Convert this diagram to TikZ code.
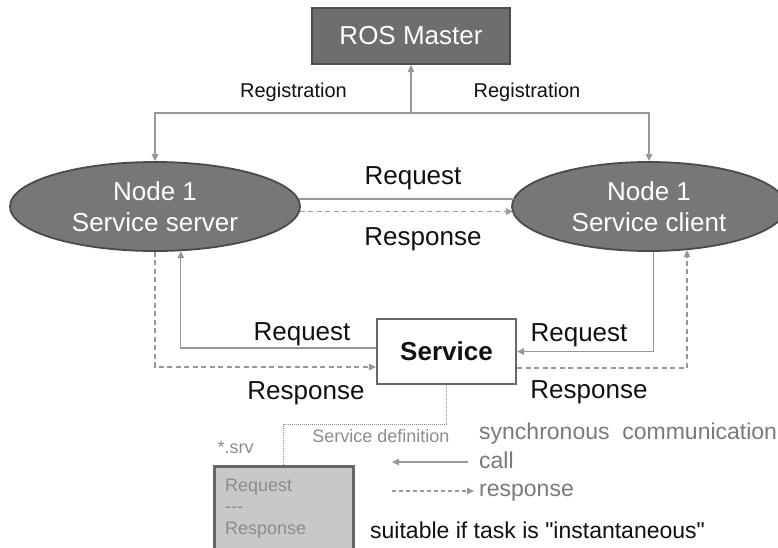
\documentclass[tikz,border=0pt]{standalone}
\usepackage{fontspec}
\setmainfont{Liberation Sans}[Ligatures=TeXOff]
\usetikzlibrary{arrows.meta,calc,shapes.geometric}

\definecolor{boxfill}{HTML}{6E6E6E}
\definecolor{boxedge}{HTML}{4D4D4D}
\definecolor{nodefill}{HTML}{777777}
\definecolor{nodeedge}{HTML}{4A4A4A}
\definecolor{linkgray}{HTML}{989898}
\definecolor{framegray}{HTML}{666666}
\definecolor{legendgray}{HTML}{7A7A7A}
\definecolor{defgray}{HTML}{8C8C8C}
\definecolor{deffill}{HTML}{C8C8C8}
\definecolor{labelink}{HTML}{111111}

\begin{document}
\begin{tikzpicture}[x=1pt,y=-1pt,
  master/.style={rectangle, fill=boxfill, draw=boxedge, line width=2pt,
    minimum width=198pt, minimum height=56pt, inner sep=0pt,
    text=white, font=\fontsize{26}{30}\selectfont},
  proc/.style={ellipse, fill=nodefill, draw=nodeedge, line width=1.8pt,
    minimum height=89pt, inner sep=0pt, text=white, align=center,
    font=\fontsize{26}{31}\selectfont},
  svcbox/.style={rectangle, fill=white, draw=framegray, line width=2.2pt,
    minimum width=139pt, minimum height=65pt, inner sep=0pt,
    text=labelink, font=\bfseries\fontsize{26}{30}\selectfont},
  defbox/.style={rectangle, fill=deffill, draw=framegray, line width=2.6pt,
    minimum width=139pt, minimum height=100pt, inner sep=0pt},
  deftext/.style={inner sep=0pt, align=left, text=defgray,
    font=\fontsize{18}{21.5}\selectfont},
  lbl/.style={inner sep=0pt, anchor=base, text=labelink,
    font=\fontsize{26}{30}\selectfont},
  reglbl/.style={inner sep=0pt, text=labelink, font=\fontsize{20}{24}\selectfont},
  small/.style={inner sep=0pt, text=defgray, font=\fontsize{18}{21}\selectfont},
  legend/.style={inner sep=0pt, anchor=base west, text=legendgray,
    font=\fontsize{23}{27}\selectfont},
  note/.style={inner sep=0pt, anchor=base west, text=labelink,
    font=\fontsize{23}{27}\selectfont},
  link/.style={draw=linkgray, line width=1.4pt},
  resp/.style={link, dash pattern=on 5pt off 3.5pt},
  defline/.style={draw=defgray, line width=0.9pt, dash pattern=on 1pt off 1pt},
  tip/.style={-{Triangle[length=7pt,width=6.5pt]}}]

\useasboundingbox (0,0) rectangle (778,547);
\fill[white] (0,0) rectangle (778,547);

% --- nodes -------------------------------------------------------------
\node[master] (ros) at (411,36) {ROS Master};
\node[proc, minimum width=290pt] (srv) at (155,206.5) {Node 1\\Service server};
\node[proc, minimum width=274pt] (cli) at (649,206.5) {Node 1\\Service client};
\node[svcbox] (svc) at (446.5,351.5) {Service};
\node[defbox, anchor=north west] (def) at (213,465) {};
\node[deftext, anchor=north west] (deftxt) at (225,478.5)
  {Request\\---\\Response};

% --- registration with the master ---------------------------------------
\coordinate (hub) at (411,113);
\draw[link,tip] (hub) -- (ros.south);
\draw[link,tip] (hub) -| (srv.north);
\draw[link,tip] (hub) -| (cli.north);
\node[reglbl] (reg1) at (293.5,92) {Registration};
\node[reglbl] (reg2) at (527,92) {Registration};

% --- direct request / response between the two nodes ---------------------
\coordinate (rqL) at (srv.3.4);
\coordinate (rsL) at (srv.-2.19);
\draw[link] (rqL) -- (rqL -| cli.176.4);
\draw[resp,tip] (rsL) -- (rsL -| cli.-177.7);
\node[lbl] (rq0) at (413,184.5) {Request};
\node[lbl] (rs0) at (423,245) {Response};

% --- traffic through the service ---------------------------------------
\draw[link,tip] ($(svc.west)+(0,-3.5)$) -| (srv.-60.6);
\draw[resp,tip] (srv.south) |- ($(svc.west)+(0,15.5)$);
\draw[link,tip] (cli.-84.9) |- (svc.east);
\draw[resp,tip] ($(svc.east)+(0,16.5)$) -| (cli.-49.2);
\node[lbl] (rq1) at (302,340) {Request};
\node[lbl] (rs1) at (306,399.3) {Response};
\node[lbl] (rq2) at (579,341) {Request};
\node[lbl] (rs2) at (589,398.3) {Response};

% --- service definition file -----------------------------------------
\draw[defline] (svc.south) |- (def.north |- 0,424) -- (def.north);
\node[small] (sdef) at (381,436) {Service definition};
\node[small] (ext) at (235.5,447) {*.srv};

% --- legend ----------------------------------------------------------
\node[legend] (sync) at (479,439) {synchronous\ \ communication};
\node[legend] (callt) at (479,468) {call};
\node[legend] (respt) at (479,496) {response};
\coordinate (callA) at (468,462);
\coordinate (callB) at (392,462);
\coordinate (respA) at (392,491);
\coordinate (respB) at (474,491);
\draw[link,tip] (callA) -- (callB);
\draw[resp,tip,dash pattern=on 4pt off 3pt] (respA) -- (respB);
\node[note] (suit) at (370,538) {suitable if task is "instantaneous"};
\end{tikzpicture}
\end{document}
